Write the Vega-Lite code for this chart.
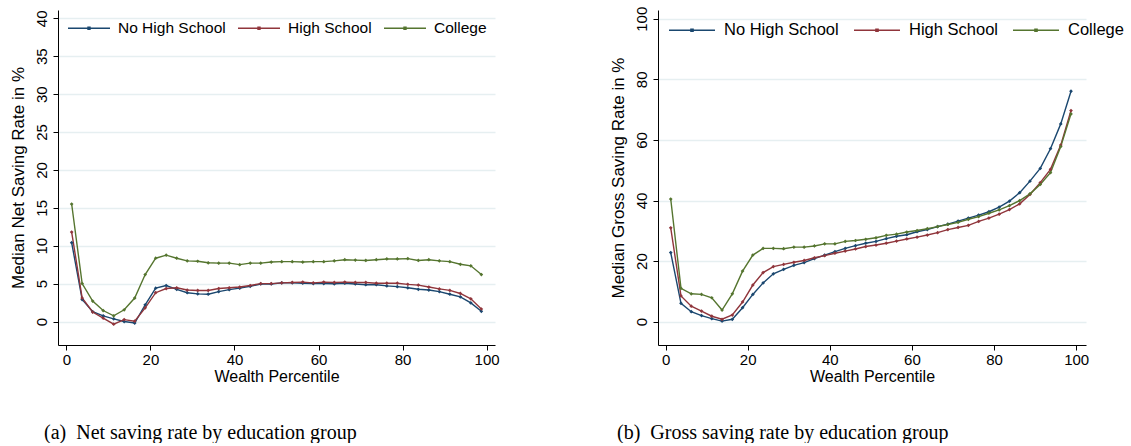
{
  "$schema": "https://vega.github.io/schema/vega-lite/v6.json",
  "background": "white",
  "padding": {"left": 9, "top": 6, "right": 2, "bottom": 0},
  "autosize": {"type": "pad"},
  "datasets": {
    "net": [
      {"pct": 1.25, "No High School": 10.4, "High School": 11.8, "College": 15.5},
      {"pct": 3.75, "No High School": 2.9, "High School": 3.1, "College": 5.0},
      {"pct": 6.25, "No High School": 1.3, "High School": 1.25, "College": 2.7},
      {"pct": 8.75, "No High School": 0.75, "High School": 0.45, "College": 1.45},
      {"pct": 11.25, "No High School": 0.35, "High School": -0.35, "College": 0.75},
      {"pct": 13.75, "No High School": 0.0, "High School": 0.25, "College": 1.55},
      {"pct": 16.25, "No High School": -0.2, "High School": 0.05, "College": 3.1},
      {"pct": 18.75, "No High School": 2.2, "High School": 1.8, "College": 6.2},
      {"pct": 21.25, "No High School": 4.4, "High School": 3.8, "College": 8.35},
      {"pct": 23.75, "No High School": 4.75, "High School": 4.35, "College": 8.75},
      {"pct": 26.25, "No High School": 4.25, "High School": 4.45, "College": 8.35},
      {"pct": 28.75, "No High School": 3.8, "High School": 4.15, "College": 8.0},
      {"pct": 31.25, "No High School": 3.65, "High School": 4.1, "College": 7.95},
      {"pct": 33.75, "No High School": 3.6, "High School": 4.1, "College": 7.75},
      {"pct": 36.25, "No High School": 3.95, "High School": 4.35, "College": 7.7},
      {"pct": 38.75, "No High School": 4.2, "High School": 4.45, "College": 7.7},
      {"pct": 41.25, "No High School": 4.4, "High School": 4.55, "College": 7.5},
      {"pct": 43.75, "No High School": 4.65, "High School": 4.75, "College": 7.7},
      {"pct": 46.25, "No High School": 4.95, "High School": 5.0, "College": 7.7},
      {"pct": 48.75, "No High School": 4.95, "High School": 5.0, "College": 7.85},
      {"pct": 51.25, "No High School": 5.1, "High School": 5.1, "College": 7.9},
      {"pct": 53.75, "No High School": 5.1, "High School": 5.15, "College": 7.9},
      {"pct": 56.25, "No High School": 5.05, "High School": 5.2, "College": 7.85},
      {"pct": 58.75, "No High School": 5.0, "High School": 5.1, "College": 7.9},
      {"pct": 61.25, "No High School": 5.0, "High School": 5.2, "College": 7.9},
      {"pct": 63.75, "No High School": 4.98, "High School": 5.15, "College": 8.0},
      {"pct": 66.25, "No High School": 5.05, "High School": 5.2, "College": 8.15},
      {"pct": 68.75, "No High School": 4.95, "High School": 5.15, "College": 8.1},
      {"pct": 71.25, "No High School": 4.85, "High School": 5.15, "College": 8.05},
      {"pct": 73.75, "No High School": 4.85, "High School": 5.05, "College": 8.15},
      {"pct": 76.25, "No High School": 4.7, "High School": 5.05, "College": 8.25},
      {"pct": 78.75, "No High School": 4.6, "High School": 5.05, "College": 8.25},
      {"pct": 81.25, "No High School": 4.45, "High School": 4.9, "College": 8.3},
      {"pct": 83.75, "No High School": 4.25, "High School": 4.8, "College": 8.05},
      {"pct": 86.25, "No High School": 4.15, "High School": 4.55, "College": 8.15},
      {"pct": 88.75, "No High School": 3.95, "High School": 4.3, "College": 8.0},
      {"pct": 91.25, "No High School": 3.6, "High School": 4.1, "College": 7.9},
      {"pct": 93.75, "No High School": 3.25, "High School": 3.7, "College": 7.55},
      {"pct": 96.25, "No High School": 2.45, "High School": 3.0, "College": 7.35},
      {"pct": 98.75, "No High School": 1.35, "High School": 1.65, "College": 6.2}
    ],
    "gross": [
      {"pct": 1.25, "No High School": 22.8, "High School": 31.0, "College": 40.5},
      {"pct": 3.75, "No High School": 6.05, "High School": 8.5, "College": 11.0},
      {"pct": 6.25, "No High School": 3.3, "High School": 5.1, "College": 9.2},
      {"pct": 8.75, "No High School": 2.0, "High School": 3.5, "College": 9.0},
      {"pct": 11.25, "No High School": 1.0, "High School": 1.8, "College": 7.9},
      {"pct": 13.75, "No High School": 0.2, "High School": 0.8, "College": 3.85},
      {"pct": 16.25, "No High School": 0.8, "High School": 2.2, "College": 9.2},
      {"pct": 18.75, "No High School": 4.6, "High School": 6.5, "College": 16.7},
      {"pct": 21.25, "No High School": 9.0, "High School": 12.1, "College": 22.0},
      {"pct": 23.75, "No High School": 12.8, "High School": 16.2, "College": 24.2},
      {"pct": 26.25, "No High School": 15.8, "High School": 18.2, "College": 24.2},
      {"pct": 28.75, "No High School": 17.3, "High School": 18.9, "College": 24.1},
      {"pct": 31.25, "No High School": 18.6, "High School": 19.6, "College": 24.6},
      {"pct": 33.75, "No High School": 19.5, "High School": 20.2, "College": 24.6},
      {"pct": 36.25, "No High School": 20.8, "High School": 21.1, "College": 25.0},
      {"pct": 38.75, "No High School": 22.0, "High School": 21.8, "College": 25.7},
      {"pct": 41.25, "No High School": 23.1, "High School": 22.6, "College": 25.7},
      {"pct": 43.75, "No High School": 24.2, "High School": 23.3, "College": 26.5},
      {"pct": 46.25, "No High School": 25.1, "High School": 24.0, "College": 26.8},
      {"pct": 48.75, "No High School": 25.9, "High School": 24.8, "College": 27.2},
      {"pct": 51.25, "No High School": 26.5, "High School": 25.3, "College": 27.7},
      {"pct": 53.75, "No High School": 27.4, "High School": 25.9, "College": 28.5},
      {"pct": 56.25, "No High School": 28.2, "High School": 26.6, "College": 28.9},
      {"pct": 58.75, "No High School": 28.7, "High School": 27.3, "College": 29.6},
      {"pct": 61.25, "No High School": 29.7, "High School": 27.9, "College": 30.1},
      {"pct": 63.75, "No High School": 30.4, "High School": 28.6, "College": 30.7},
      {"pct": 66.25, "No High School": 31.4, "High School": 29.4, "College": 31.4},
      {"pct": 68.75, "No High School": 32.2, "High School": 30.4, "College": 32.1},
      {"pct": 71.25, "No High School": 33.2, "High School": 31.1, "College": 32.8},
      {"pct": 73.75, "No High School": 34.2, "High School": 31.8, "College": 33.8},
      {"pct": 76.25, "No High School": 35.2, "High School": 33.1, "College": 34.7},
      {"pct": 78.75, "No High School": 36.3, "High School": 34.2, "College": 35.8},
      {"pct": 81.25, "No High School": 37.8, "High School": 35.5, "College": 36.9},
      {"pct": 83.75, "No High School": 39.8, "High School": 37.0, "College": 38.3},
      {"pct": 86.25, "No High School": 42.6, "High School": 38.9, "College": 40.0},
      {"pct": 88.75, "No High School": 46.4, "High School": 42.0, "College": 42.2},
      {"pct": 91.25, "No High School": 50.6, "High School": 45.9, "College": 45.3},
      {"pct": 93.75, "No High School": 57.1, "High School": 50.3, "College": 49.2},
      {"pct": 96.25, "No High School": 65.3, "High School": 58.3, "College": 57.8},
      {"pct": 98.75, "No High School": 76.1, "High School": 69.7, "College": 68.6}
    ]
  },
  "config": {
    "font": "Liberation Sans",
    "view": {"stroke": null},
    "axis": {
      "domainColor": "#000000",
      "domainWidth": 1,
      "tickColor": "#000000",
      "tickSize": 5,
      "labelColor": "#000000",
      "titleColor": "#000000",
      "labelFont": "Liberation Sans",
      "titleFont": "Liberation Sans",
      "labelFontSize": 15,
      "titleFontSize": 16,
      "titleFontWeight": "normal"
    },
    "axisX": {"grid": false, "labelPadding": 2, "titlePadding": 1},
    "axisY": {
      "grid": true,
      "gridColor": "#e6eff1",
      "gridWidth": 1.5,
      "labelAngle": -90,
      "labelAlign": "center",
      "labelBaseline": "bottom",
      "labelPadding": 4,
      "titleFontSize": 17,
      "titlePadding": 7
    },
    "legend": {
      "orient": "none",
      "direction": "horizontal",
      "title": null,
      "symbolType": "M-1,0H1M-0.05,-0.05H0.05V0.05H-0.05Z",
      "symbolStrokeWidth": 1.3,
      "labelFont": "Liberation Sans",
      "labelColor": "#000000"
    },
    "title": {
      "font": "Liberation Serif",
      "fontSize": 20,
      "fontWeight": "normal",
      "color": "#000000",
      "orient": "bottom",
      "anchor": "start",
      "frame": "group",
      "offset": 39
    }
  },
  "spacing": 108,
  "resolve": {"scale": {"color": "independent"}, "legend": {"color": "independent"}},
  "hconcat": [
    {
      "width": 437,
      "height": 335,
      "data": {"name": "net"},
      "transform": [{"fold": ["No High School", "High School", "College"], "as": ["group", "rate"]}],
      "title": {"text": "(a)\u00a0 Net saving rate by education group", "dx": -14},
      "mark": {"type": "line", "strokeWidth": 1.4, "point": {"filled": true, "size": 14, "shape": "diamond"}},
      "encoding": {
        "x": {
          "field": "pct", "type": "quantitative",
          "scale": {"domain": [-2, 102], "nice": false, "zero": false},
          "axis": {"values": [0, 20, 40, 60, 80, 100], "title": "Wealth Percentile"}
        },
        "y": {
          "field": "rate", "type": "quantitative",
          "scale": {"domain": [-3.1, 41.1], "nice": false, "zero": false},
          "axis": {"values": [0, 5, 10, 15, 20, 25, 30, 35, 40], "title": "Median Net Saving Rate in %"}
        },
        "color": {
          "field": "group", "type": "nominal",
          "scale": {"domain": ["No High School", "High School", "College"], "range": ["#1a476f", "#90353b", "#55752f"]},
          "legend": {"legendX": 9, "legendY": -4, "symbolSize": 1764, "labelFontSize": 15.5, "labelOffset": 7, "columnPadding": 9}
        }
      }
    },
    {
      "width": 428,
      "height": 335,
      "data": {"name": "gross"},
      "transform": [{"fold": ["No High School", "High School", "College"], "as": ["group", "rate"]}],
      "title": {"text": "(b)\u00a0 Gross saving rate by education group", "dx": -41},
      "mark": {"type": "line", "strokeWidth": 1.4, "point": {"filled": true, "size": 14, "shape": "diamond"}},
      "encoding": {
        "x": {
          "field": "pct", "type": "quantitative",
          "scale": {"domain": [-1.85, 102.4], "nice": false, "zero": false},
          "axis": {"values": [0, 20, 40, 60, 80, 100], "title": "Wealth Percentile"}
        },
        "y": {
          "field": "rate", "type": "quantitative",
          "scale": {"domain": [-7.7, 102.9], "nice": false, "zero": false},
          "axis": {"values": [0, 20, 40, 60, 80, 100], "title": "Median Gross Saving Rate in %"}
        },
        "color": {
          "field": "group", "type": "nominal",
          "scale": {"domain": ["No High School", "High School", "College"], "range": ["#1a476f", "#90353b", "#55752f"]},
          "legend": {"legendX": 10, "legendY": -4, "symbolSize": 2116, "labelFontSize": 16.5, "labelOffset": 8, "columnPadding": 12}
        }
      }
    }
  ]
}
